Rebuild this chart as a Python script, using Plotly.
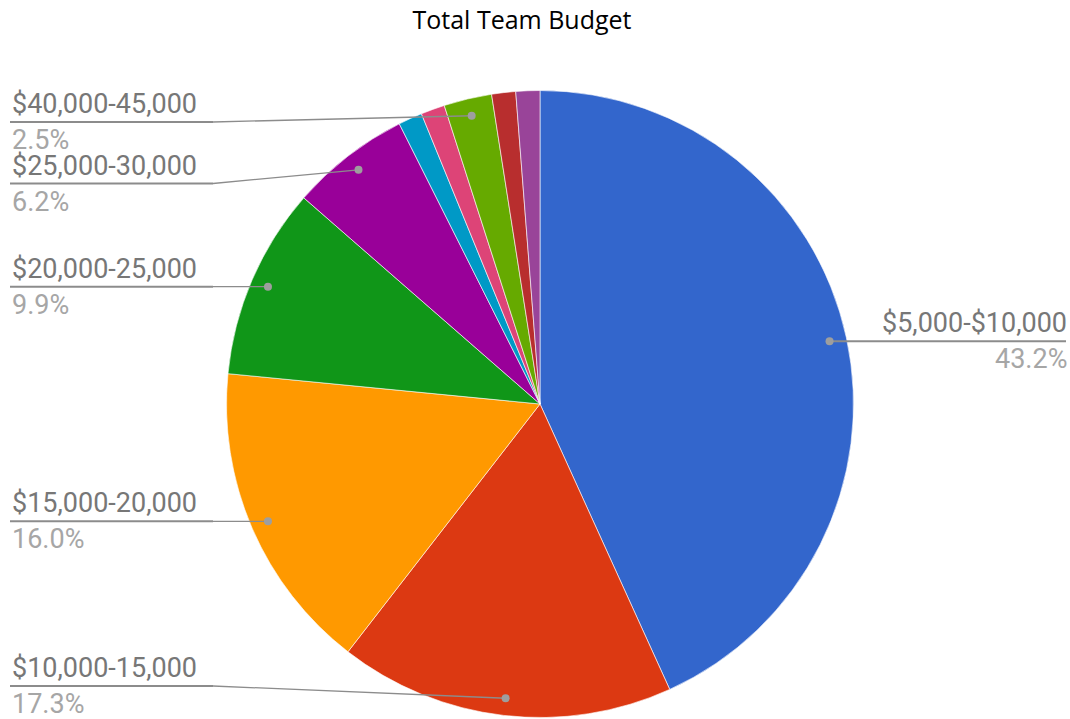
import math

import plotly.graph_objects as go

# --- data ---
CATEGORIES = [
    "$5,000-$10,000", "$10,000-15,000", "$15,000-20,000", "$20,000-25,000",
    "$25,000-30,000", "$30,000-35,000", "$35,000-40,000", "$40,000-45,000",
    "$45,000-50,000", "$50,000+",
]
COUNTS = [35, 14, 13, 8, 5, 1, 1, 2, 1, 1]
COLORS = [
    "#3366cc", "#dc3912", "#ff9900", "#109618", "#990099",
    "#0099c6", "#dd4477", "#66aa00", "#b82e2e", "#994499",
]
LABELLED = ["$5,000-$10,000", "$10,000-15,000", "$15,000-20,000",
            "$20,000-25,000", "$25,000-30,000", "$40,000-45,000"]

W, H = 1070, 719
CX, CY, R = 540, 404, 313.5  # pie centre / radius in pixels

LABEL_GRAY = "#777777"
PCT_GRAY = "#a6a6a6"
LINE_GRAY = "#8c8c8c"
FONT_SIZE = 27


def px(x):
    return x / W


def py(y):
    return 1 - y / H


fig = go.Figure(go.Pie(
    labels=CATEGORIES, values=COUNTS, sort=False, direction="clockwise",
    rotation=0, textinfo="none", hoverinfo="label+percent",
    marker=dict(colors=COLORS, line=dict(color="white", width=0.6)),
    domain=dict(x=[px(CX - R), px(CX + R)], y=[py(CY + R), py(CY - R)]),
    showlegend=False,
))

# --- leader lines + labels, placed from the slice mid-angles ---
total = sum(COUNTS)
cum = 0
left, right = [], []
for name, v in zip(CATEGORIES, COUNTS):
    mid = (cum + v / 2) / total * 2 * math.pi
    cum += v
    if name not in LABELLED:
        continue
    dx, dy = CX + 0.945 * R * math.sin(mid), CY - 0.945 * R * math.cos(mid)
    item = dict(name=name, pct=f"{v / total * 100:.1f}%", dx=dx, dy=dy, ly=dy)
    (right if math.sin(mid) > 0 else left).append(item)

# spread left labels so they don't collide
TOP_Y, BOT_Y, GAP = 122, 686, 61.5
left.sort(key=lambda d: d["dy"])
prev = None
for d in left:
    d["ly"] = min(max(d["dy"], TOP_Y), BOT_Y)
    if prev is not None and d["ly"] < prev + GAP:
        d["ly"] = prev + GAP
    prev = d["ly"]

shapes, annos = [], []
for d in left + right:
    is_left = d in left
    if is_left:
        x_end, x_knee = 10, 213
        shapes.append(dict(type="line", xref="paper", yref="paper",
                           x0=px(x_end), x1=px(x_knee), y0=py(d["ly"]), y1=py(d["ly"]),
                           line=dict(color=LINE_GRAY, width=2)))
        shapes.append(dict(type="line", xref="paper", yref="paper",
                           x0=px(x_knee), x1=px(d["dx"]), y0=py(d["ly"]), y1=py(d["dy"]),
                           line=dict(color=LINE_GRAY, width=1.3)))
        tx, anchor = px(11), "left"
    else:
        x_end = 1066
        shapes.append(dict(type="line", xref="paper", yref="paper",
                           x0=px(d["dx"]), x1=px(x_end), y0=py(d["dy"]), y1=py(d["ly"]),
                           line=dict(color=LINE_GRAY, width=2)))
        tx, anchor = px(x_end + 2), "right"
    shapes.append(dict(type="circle", xref="paper", yref="paper",
                       x0=px(d["dx"] - 4), x1=px(d["dx"] + 4),
                       y0=py(d["dy"] + 4), y1=py(d["dy"] - 4),
                       fillcolor="#9e9e9e", line=dict(width=0)))
    annos.append(dict(x=tx, y=py(d["ly"] - 1), xref="paper", yref="paper",
                      text=d["name"], showarrow=False, xanchor=anchor, yanchor="bottom",
                      font=dict(family="Roboto", size=FONT_SIZE, color=LABEL_GRAY),
                      borderpad=0))
    annos.append(dict(x=tx, y=py(d["ly"] + 1), xref="paper", yref="paper",
                      text=d["pct"], showarrow=False, xanchor=anchor, yanchor="top",
                      font=dict(family="Roboto", size=FONT_SIZE, color=PCT_GRAY),
                      borderpad=0))

fig.update_layout(
    width=W, height=H,
    margin=dict(l=0, r=0, t=0, b=0),
    paper_bgcolor="white", plot_bgcolor="white",
    title=dict(text="Total Team Budget", x=522 / W, xanchor="center",
               y=1 - 20 / H, yanchor="middle", yref="container",
               font=dict(family="Open Sans", size=25, color="#000000")),
    shapes=shapes, annotations=annos,
)

fig.write_html("out.html", config={"displayModeBar": False},
               post_script="document.body.style.margin='0';")
